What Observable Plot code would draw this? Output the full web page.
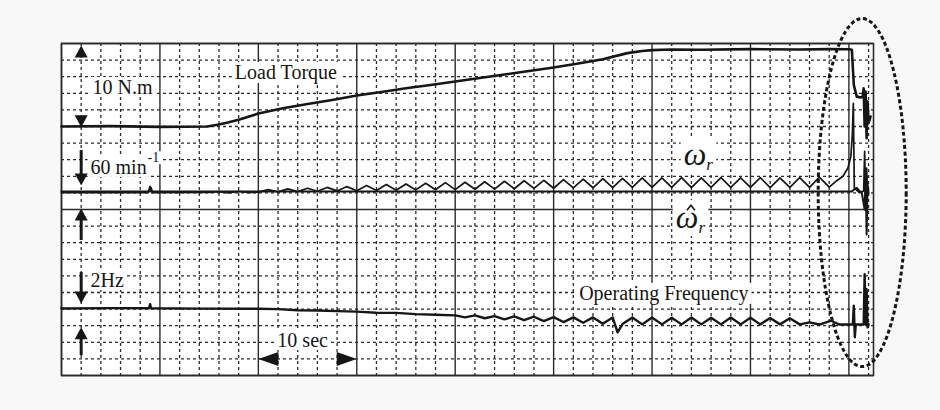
<!DOCTYPE html>
<html><head><meta charset="utf-8">
<script src="https://cdn.jsdelivr.net/npm/d3@7"></script>
<script src="https://cdn.jsdelivr.net/npm/@observablehq/plot@0.6"></script>
<style>
html,body{margin:0;padding:0;background:#f8f8f8;}
#chart{width:940px;height:410px;}
</style></head><body><div id="chart"></div>
<script>
// ---- Data (time in s, value in grid divisions) ----
const torqueTime = [0, 5, 10, 14.8, 16, 17, 18, 20, 22.5, 25, 27.5, 30, 32.5, 35, 37.5, 40, 42.5, 45, 47.5, 50, 52.5, 55, 57.5, 59, 60, 62, 65, 70, 75, 78, 80, 80.3, 80.5, 80.8, 81.2, 81.4, 81.5, 81.6, 81.7, 81.8, 81.9, 82.0, 82.2];
const torqueVal  = [15.0, 15.02, 14.98, 15.0, 15.12, 15.25, 15.4, 15.78, 16.1, 16.35, 16.6, 16.87, 17.08, 17.3, 17.5, 17.71, 17.92, 18.13, 18.34, 18.55, 18.8, 19.05, 19.42, 19.55, 19.6, 19.64, 19.62, 19.66, 19.64, 19.66, 19.65, 19.62, 17.5, 16.8, 16.75, 16.8, 17.3, 15.0, 17.1, 14.3, 16.5, 15.2, 15.6];

const omegaTime = [0, 8.8, 9.0, 9.2, 15, 16, 17, 18, 19,
  20, 21, 22, 23, 24, 25, 26, 27, 28, 29, 30, 31, 32, 33, 34, 35, 36, 37, 38, 39,
  40, 41, 42, 43, 44, 45, 46, 47, 48, 49, 50, 51, 52, 53, 54, 55, 56, 57, 58, 59,
  60, 61, 62, 63, 64, 65, 66, 67, 68, 69, 70, 71, 72, 73, 74, 75, 76, 77, 78,
  78.8, 79.4, 79.9, 80.2, 80.35, 80.45, 80.55, 81.0, 81.5, 81.6, 81.7, 81.8, 81.9];
const omegaVal = [11.02, 11.02, 11.4, 11.02, 11.03, 11.08, 11.0, 11.1, 11.02,
  11.05, 11.2, 11.06, 11.24, 11.08, 11.28, 11.1, 11.33, 11.12, 11.38, 11.13, 11.44, 11.15, 11.5, 11.16, 11.54, 11.18, 11.58, 11.19, 11.62,
  11.2, 11.64, 11.22, 11.67, 11.23, 11.7, 11.25, 11.73, 11.27, 11.76, 11.28, 11.8, 11.3, 11.83, 11.31, 11.86, 11.32, 11.88, 11.33, 11.9,
  11.33, 11.9, 11.33, 11.92, 11.32, 11.9, 11.33, 11.92, 11.33, 11.9, 11.33, 11.92, 11.32, 11.9, 11.33, 11.92, 11.33, 11.95, 11.35,
  11.75, 12.0, 12.5, 13.2, 14.5, 16.4, 11.3, 11.05, 11.1, 13.5, 10.5, 12.5, 11.0];

const omegaHatTime = [0, 9.0, 9.1, 9.2, 80.3, 80.5, 80.8, 81.1, 81.3, 81.6, 81.7, 81.8, 81.9, 82.0];
const omegaHatVal  = [11.08, 11.08, 11.3, 11.08, 11.08, 11.2, 11.3, 11.1, 11.05, 10.0, 12.0, 8.5, 11.5, 11.0];

const freqTime = [0, 5, 8.9, 9.0, 9.1, 14, 20, 22, 24, 26, 28, 30, 32, 34, 36, 38,
  40, 41, 42, 43, 44, 45, 46, 47, 48, 49, 50, 51, 52, 53, 54, 55, 56, 56.5, 57, 58, 59,
  60, 61, 62, 63, 64, 65, 66, 67, 68, 69, 70, 71, 72, 73, 74, 75, 76, 77, 78.2, 79,
  80.4, 80.5, 80.6, 80.7, 81.5, 81.6, 81.7, 81.8, 81.9, 82.0];
const freqVal = [4.04, 4.06, 4.05, 4.3, 4.05, 4.03, 4.02, 4.0, 3.93, 3.92, 3.88, 3.85, 3.78, 3.77, 3.7, 3.66,
  3.62, 3.5, 3.62, 3.45, 3.58, 3.38, 3.56, 3.33, 3.54, 3.28, 3.52, 3.22, 3.5, 3.18, 3.5, 3.12, 3.5, 2.6, 3.1, 3.5, 3.08,
  3.5, 3.08, 3.48, 3.08, 3.5, 3.08, 3.48, 3.08, 3.5, 3.08, 3.48, 3.08, 3.46, 3.08, 3.45, 3.08, 3.2, 3.07, 3.3, 3.07,
  3.07, 4.2, 2.3, 3.07, 3.07, 6.1, 3.1, 5.2, 2.9, 3.1];

// grid positions
const majorX = [0, 10, 20, 30, 40, 50, 60, 70, 80];
const minorX = [2, 4, 6, 8, 12, 14, 16, 18, 22, 24, 26, 28, 32, 34, 36, 38, 42, 44, 46, 48, 52, 54, 56, 58, 62, 64, 66, 68, 72, 74, 76, 78, 82];
const majorY = [0, 10, 20];
const minorY = [1, 2, 3, 4, 5, 6, 7, 8, 9, 11, 12, 13, 14, 15, 16, 17, 18, 19];

// ---- helpers ----
const pts = (ts, vs) => ts.map((t, i) => ({t, v: vs[i]}));
const ink = "#161616";
const gridInk = "#2a2a2a";
const serif = "'Liberation Serif', 'Times New Roman', serif";
const SVGNS = "http://www.w3.org/2000/svg";

const triUp = {draw(c) { c.moveTo(0, 0); c.lineTo(-6.5, 12); c.lineTo(6.5, 12); c.closePath(); }};
const triDown = {draw(c) { c.moveTo(0, 0); c.lineTo(-6.5, -12); c.lineTo(6.5, -12); c.closePath(); }};
const triLeft = {draw(c) { c.moveTo(0, 0); c.lineTo(20, -7); c.lineTo(20, 7); c.closePath(); }};
const triRight = {draw(c) { c.moveTo(0, 0); c.lineTo(-20, -7); c.lineTo(-20, 7); c.closePath(); }};
const chevron = {draw(c) { c.moveTo(-4, 2.5); c.lineTo(0, -2.5); c.lineTo(4, 2.5); }};
const ellipse = {draw(c) {
  const rx = 44, ry = 174, k = 0.5523;
  c.moveTo(rx, 0);
  c.bezierCurveTo(rx, ry * k, rx * k, ry, 0, ry);
  c.bezierCurveTo(-rx * k, ry, -rx, ry * k, -rx, 0);
  c.bezierCurveTo(-rx, -ry * k, -rx * k, -ry, 0, -ry);
  c.bezierCurveTo(rx * k, -ry, rx, -ry * k, rx, 0);
  c.closePath();
}};

// annotation anchors (data space)
const labelsMid = [
  {t: 22.8, v: 18.25, s: "Load Torque"},
  {t: 24.5, v: 2.1, s: "10 sec"},
  {t: 61.2, v: 4.94, s: "Operating Frequency"}
];
const labelsStart = [
  {t: 3.15, v: 17.35, s: "10 N.m"},
  {t: 2.95, v: 12.53, s: "60 min"},
  {t: 2.95, v: 5.72, s: "2Hz"}
];
const supers = [{t: 8.75, v: 13.12, s: "-1"}];
const greek = [
  {t: 64.7, v: 13.3, s: "ω"},
  {t: 63.9, v: 9.5, s: "ω"}
];
const hats = [{t: 63.95, v: 10.1}];
const shafts = [
  {t: 2, v1: 13.55, v2: 12.1},
  {t: 2, v1: 9.4, v2: 8.13},
  {t: 2, v1: 6.2, v2: 5.0},
  {t: 2, v1: 2.2, v2: 1.2}
];
const headsUp = [{t: 2, v: 19.88}, {t: 2, v: 10.06}, {t: 2, v: 2.9}];
const headsDown = [{t: 2, v: 14.95}, {t: 2, v: 11.45}, {t: 2, v: 4.34}];
const headsLeft = [{t: 20, v: 1}];
const headsRight = [{t: 30, v: 1}];
const ring = [{t: 81.35, v: 11.02}];

const chart = Plot.plot({
  width: 940, height: 410,
  marginLeft: 61, marginRight: 67, marginTop: 43, marginBottom: 35,
  x: {domain: [0, 82.5], axis: null},
  y: {domain: [0, 20], axis: null},
  style: {background: "transparent", fontFamily: serif, color: ink, overflow: "visible"},
  marks: [
    Plot.frame({fill: "#ffffff", stroke: null}),
    Plot.ruleX(minorX, {stroke: gridInk, strokeWidth: 1.3, strokeDasharray: "3,3"}),
    Plot.ruleY(minorY, {stroke: gridInk, strokeWidth: 1.3, strokeDasharray: "3,3"}),
    Plot.ruleX(majorX, {stroke: gridInk, strokeWidth: 1.4}),
    Plot.ruleY(majorY, {stroke: gridInk, strokeWidth: 1.4}),
    Plot.frame({stroke: gridInk, strokeWidth: 1.6}),
    Plot.line(pts(torqueTime, torqueVal), {x: "t", y: "v", stroke: ink, strokeWidth: 2.6}),
    Plot.line(pts(omegaHatTime, omegaHatVal), {x: "t", y: "v", stroke: ink, strokeWidth: 2}),
    Plot.line(pts(omegaTime, omegaVal), {x: "t", y: "v", stroke: ink, strokeWidth: 1.7}),
    Plot.line(pts(freqTime, freqVal), {x: "t", y: "v", stroke: ink, strokeWidth: 2.4}),
    Plot.text(labelsMid, {x: "t", y: "v", text: "s", fontSize: 20, textAnchor: "middle", fill: ink, className: "lbl"}),
    Plot.text(labelsStart, {x: "t", y: "v", text: "s", fontSize: 20, textAnchor: "start", fill: ink, className: "lbl"}),
    Plot.text(supers, {x: "t", y: "v", text: "s", fontSize: 14, textAnchor: "start", fill: ink, className: "lbl"}),
    Plot.text(greek, {x: "t", y: "v", text: "s", fontSize: 32, fontStyle: "italic", fill: ink, className: "lbl greek"}),
    Plot.dot(hats, {x: "t", y: "v", symbol: chevron, fill: "none", stroke: ink, strokeWidth: 1.6}),
    Plot.ruleX(shafts, {x: "t", y1: "v1", y2: "v2", stroke: ink, strokeWidth: 3}),
    Plot.dot(headsUp, {x: "t", y: "v", symbol: triUp, fill: ink, stroke: "none"}),
    Plot.dot(headsDown, {x: "t", y: "v", symbol: triDown, fill: ink, stroke: "none"}),
    Plot.dot(headsLeft, {x: "t", y: "v", symbol: triLeft, fill: ink, stroke: "none"}),
    Plot.dot(headsRight, {x: "t", y: "v", symbol: triRight, fill: ink, stroke: "none"}),
    Plot.dot(ring, {x: "t", y: "v", symbol: ellipse, fill: "none", stroke: ink, strokeWidth: 3, strokeDasharray: "4,2.6"})
  ]
});
document.getElementById("chart").append(chart);

// subscript r as a tspan within the same text element
chart.querySelectorAll("g.greek text").forEach(tx => {
  const ts = document.createElementNS(SVGNS, "tspan");
  ts.textContent = "r";
  ts.setAttribute("font-size", 17);
  ts.setAttribute("dy", 5);
  tx.appendChild(ts);
});

// white boxes behind labels (like the clean-outs in the scope photo)
const lblGroups = chart.querySelectorAll("g.lbl");
if (lblGroups.length) {
  const boxG = document.createElementNS(SVGNS, "g");
  lblGroups[0].parentNode.insertBefore(boxG, lblGroups[0]);
  lblGroups.forEach(g => {
    g.querySelectorAll("text").forEach(tx => {
      const b = tx.getBBox();
      const r = document.createElementNS(SVGNS, "rect");
      r.setAttribute("x", b.x - 3);
      r.setAttribute("y", b.y + 1);
      r.setAttribute("width", b.width + 6);
      r.setAttribute("height", Math.max(0, b.height - 2));
      r.setAttribute("fill", "#ffffff");
      const tr = tx.getAttribute("transform");
      const gtr = g.getAttribute("transform");
      const all = [gtr, tr].filter(Boolean).join(" ");
      if (all) r.setAttribute("transform", all);
      boxG.appendChild(r);
    });
  });
}
</script>
</body></html>
